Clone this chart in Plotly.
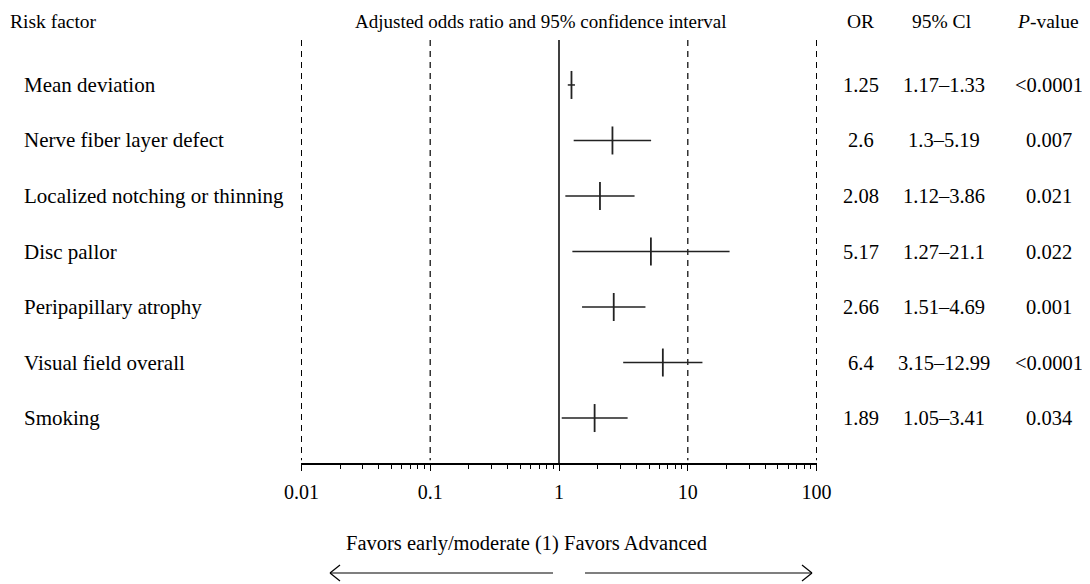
import plotly.graph_objects as go

factors = ["Mean deviation", "Nerve fiber layer defect", "Localized notching or thinning",
           "Disc pallor", "Peripapillary atrophy", "Visual field overall", "Smoking"]
odds = [1.25, 2.6, 2.08, 5.17, 2.66, 6.4, 1.89]
ci_low = [1.17, 1.3, 1.12, 1.27, 1.51, 3.15, 1.05]
ci_high = [1.33, 5.19, 3.86, 21.1, 4.69, 12.99, 3.41]
or_text = ["1.25", "2.6", "2.08", "5.17", "2.66", "6.4", "1.89"]
ci_text = ["1.17–1.33", "1.3–5.19", "1.12–3.86", "1.27–21.1", "1.51–4.69", "3.15–12.99", "1.05–3.41"]
p_text = ["<0.0001", "0.007", "0.021", "0.022", "0.001", "<0.0001", "0.034"]
tick_vals = [0.01, 0.1, 1, 10, 100]
tick_text = ["0.01", "0.1", "1", "10", "100"]
dashed_refs = [0.01, 0.1, 10, 100]

FONT = "Liberation Serif"
OFF = 8  # page body margin
W, H = 1090 - OFF, 584 - OFF
AX_L, AX_R, AX_T, AX_B = 301, 817, 40, 463   # target page pixel positions
L, T = AX_L - OFF, AX_T - OFF
R = W - (AX_R - OFF)
B = H - (AX_B - OFF)
PW, PH = AX_R - AX_L, AX_B - AX_T


def px(xp):
    return (xp - AX_L) / PW


def py(yp):
    return (AX_B - yp) / PH


rows = list(range(len(factors)))
fig = go.Figure()

for v in dashed_refs:
    fig.add_trace(go.Scatter(x=[v, v], y=[-0.81, 6.76], mode="lines",
                             line=dict(color="black", width=1.2, dash="6px,5px"),
                             hoverinfo="skip", showlegend=False))
fig.add_trace(go.Scatter(x=[1, 1], y=[-0.81, 6.81], mode="lines",
                         line=dict(color="black", width=1.5),
                         hoverinfo="skip", showlegend=False))

cx, cy = [], []
for lo, hi, r in zip(ci_low, ci_high, rows):
    cx += [lo, hi, None]
    cy += [r, r, None]
fig.add_trace(go.Scatter(x=cx, y=cy, mode="lines", line=dict(color="#222", width=1.5),
                         hoverinfo="skip", showlegend=False))
fig.add_trace(go.Scatter(x=odds, y=rows, mode="markers",
                         marker=dict(symbol="line-ns", size=20,
                                     line=dict(color="#222", width=1.8)),
                         showlegend=False, cliponaxis=False))

top = py(OFF + 1)
ann = [
    dict(text="Risk factor", x=px(8), xanchor="left", size=19.5),
    dict(text="Adjusted odds ratio and 95% confidence interval", x=px(540), xanchor="center", size=19),
    dict(text="OR", x=px(860), xanchor="center", size=19.5),
    dict(text="95% Cl", x=px(942), xanchor="center", size=19.5),
    dict(text="<i>P</i>-value", x=px(1048), xanchor="center", size=19.5),
]
annotations = []
for a in ann:
    s = a.pop("size")
    annotations.append(dict(xref="paper", yref="paper", y=top, yanchor="top", showarrow=False,
                            font=dict(family=FONT, size=s, color="black"), **a))
annotations.append(dict(xref="paper", yref="paper", x=px(526), y=py(543), xanchor="center",
                        yanchor="middle", showarrow=False,
                        text="Favors early/moderate (1) Favors Advanced",
                        font=dict(family=FONT, size=20.5, color="black")))
for r, name, o, c, p in zip(rows, factors, or_text, ci_text, p_text):
    for txt, xx, anc, s in [(name, px(22), "left", 21), (o, px(861), "center", 20.5),
                            (c, px(944), "center", 20.5), (p, px(1049), "center", 20.5)]:
        annotations.append(dict(xref="paper", yref="y", x=xx, y=r, text=txt, xanchor=anc,
                                yanchor="middle", showarrow=False,
                                font=dict(family=FONT, size=s, color="black")))

ay = py(573)
shapes = []


def seg(x0, y0, x1, y1):
    return dict(type="line", xref="paper", yref="paper", x0=x0, y0=y0, x1=x1, y1=y1,
                line=dict(color="black", width=1.2))


shapes.append(seg(px(553), ay, px(330), ay))
shapes.append(seg(px(330), ay, px(340), py(565)))
shapes.append(seg(px(330), ay, px(340), py(581)))
shapes.append(seg(px(585), ay, px(812), ay))
shapes.append(seg(px(812), ay, px(802), py(565)))
shapes.append(seg(px(812), ay, px(802), py(581)))

fig.update_layout(
    width=W, height=H, margin=dict(l=L, r=R, t=T, b=B),
    plot_bgcolor="white", paper_bgcolor="white",
    annotations=annotations, shapes=shapes,
    font=dict(family=FONT, size=20, color="black"),
    xaxis=dict(type="log", range=[-2.003, 2.003], showline=True, linecolor="black", linewidth=1.5,
               tickvals=tick_vals, ticktext=tick_text, ticks="outside", ticklen=6, tickwidth=1.2,
               tickcolor="black", showgrid=False, zeroline=False, ticklabelstandoff=4,
               tickfont=dict(family=FONT, size=20, color="black"),
               minor=dict(ticks="outside", ticklen=4, tickwidth=1, tickcolor="black",
                          dtick="D1", showgrid=False)),
    yaxis=dict(range=[6.81, -0.81], visible=False, showgrid=False, zeroline=False),
)

fig.write_html("out.html")
